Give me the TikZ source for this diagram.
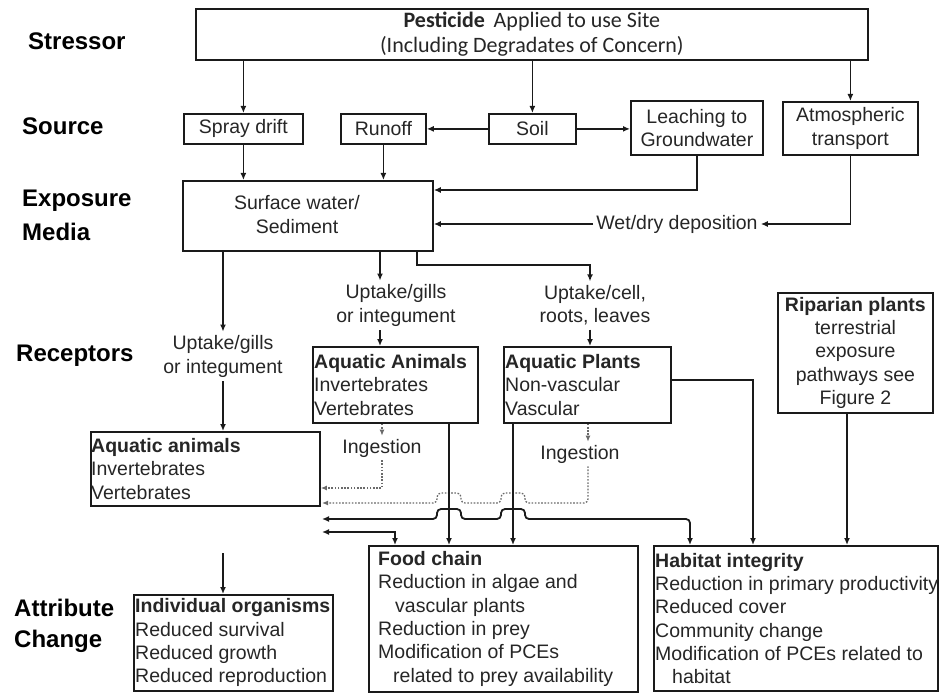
\documentclass[tikz,border=0pt]{standalone}
\usepackage{fontspec}
\setmainfont{Liberation Sans}
\newfontfamily\calib{Carlito}
\usetikzlibrary{arrows.meta}
\definecolor{lc}{HTML}{1A1A1A}
\definecolor{tc}{HTML}{262626}
\definecolor{dc}{HTML}{6A6A6A}
\begin{document}
\begin{tikzpicture}[x=1pt,y=-1pt,
  body/.style={text=tc, font=\fontsize{19.5}{23.3}\selectfont},
  box/.style={draw=lc, line width=1.8pt, inner sep=0pt, anchor=north west, body, align=center},
  txt/.style={body, inner sep=3pt, align=center},
  ltxt/.style={body, inner sep=0pt, align=left, anchor=west},
  lab/.style={font=\fontsize{24}{28}\selectfont\bfseries, text=black, anchor=base west, inner sep=0pt},
  arr/.style={draw=lc, line width=1.8pt, -{Latex[length=7pt,width=6pt]}},
  darr/.style={draw=lc, line width=1.8pt, {Latex[length=7pt,width=6pt]}-{Latex[length=7pt,width=6pt]}},
  dotarr/.style={draw=dc, line width=1.3pt, dash pattern=on 1.6pt off 1.6pt, -{Latex[length=6pt,width=5pt]}},
]
\useasboundingbox (0,0) rectangle (939,695);
\fill[white] (0,0) rectangle (939,695);

% row labels
\node[lab] (lstress) at (28,50) {Stressor};
\node[lab] (lsource) at (22,135) {Source};
\node[lab] (lexpo) at (22,207) {Exposure};
\node[lab] (lmedia) at (22,240) {Media};
\node[lab] (lrecep) at (16,361) {Receptors};
\node[lab] (lattr) at (14,616) {Attribute};
\node[lab] (lchange) at (14,647) {Change};

% boxes
\node[box, minimum width=672pt, minimum height=51pt, font=\calib\fontsize{22}{25}\selectfont] (top) at (195,8)
  {\textbf{Pesticide}\hspace{0.4em}Applied to use Site\\(Including Degradates of Concern)};
\node[box, minimum width=119pt, minimum height=30pt] (spray) at (183,113) {Spray drift};
\node[box, minimum width=85pt, minimum height=30pt] (runoff) at (340,113) {Runoff};
\node[box, minimum width=87pt, minimum height=30pt] (soil) at (488,113) {Soil};
\node[box, minimum width=132pt, minimum height=54pt] (leach) at (630,100) {Leaching to\\Groundwater};
\node[box, minimum width=135pt, minimum height=53pt] (atmos) at (782,101) {Atmospheric\\transport};
\node[box, minimum width=250pt, minimum height=70pt] (surf) at (182,180) {};
\node[txt] (surft) at (297,214.5) {Surface water/\\Sediment};

\node[box, minimum width=165pt, minimum height=76pt] (aqA) at (312,346) {};
\node[ltxt] (aqAt) at ([xshift=2pt]aqA.west) {\textbf{Aquatic Animals}\\Invertebrates\\Vertebrates};
\node[box, minimum width=167pt, minimum height=76pt] (aqP) at (503,346) {};
\node[ltxt] (aqPt) at ([xshift=2pt]aqP.west) {\textbf{Aquatic Plants}\\Non-vascular\\Vascular};
\node[box, minimum width=155pt, minimum height=120pt] (rip) at (777,292)
  {\textbf{Riparian plants}\\terrestrial\\exposure\\pathways see\\Figure 2};
\node[box, minimum width=229pt, minimum height=74pt] (aqa) at (90,431) {};
\node[ltxt] (aqat) at ([xshift=1pt]aqa.west) {\textbf{Aquatic animals}\\Invertebrates\\Vertebrates};

\node[box, minimum width=199pt, minimum height=96pt] (indiv) at (133,594) {};
\node[ltxt] (indivt) at ([xshift=2pt]indiv.west) {\textbf{Individual organisms}\\Reduced survival\\Reduced growth\\Reduced reproduction};
\node[box, minimum width=269pt, minimum height=146pt] (food) at (368,545) {};
\node[ltxt] (foodt) at ([xshift=10pt]food.west) {\textbf{Food chain}\\Reduction in algae and\\\hspace*{17pt}vascular plants\\Reduction in prey\\Modification of PCEs\\\hspace*{15pt}related to prey availability};
\node[box, minimum width=284pt, minimum height=145pt] (hab) at (653,545) {};
\node[ltxt] (habt) at ([xshift=2pt]hab.west) {\textbf{Habitat integrity}\\Reduction in primary productivity\\Reduced cover\\Community change\\Modification of PCEs related to\\\hspace*{17pt}habitat};

% free labels
\node[txt, inner sep=4pt] (upt1) at (223,356.5) {Uptake/gills\\or integument};
\node[txt, inner sep=4pt] (upt2) at (396,305.5) {Uptake/gills\\or integument};
\node[txt, inner sep=4pt] (upt3) at (595,305.5) {Uptake/cell,\\roots, leaves};
\node[txt, inner sep=3pt] (ing1) at (382,448) {Ingestion};
\node[txt, inner sep=3pt] (ing2) at (580,454) {Ingestion};
\node[txt, inner sep=3pt] (wet) at (677,224) {Wet/dry deposition};

% helper coordinates
\coordinate (x380) at (380,0);
\coordinate (x449) at (449,0);
\coordinate (x513) at (513,0);
\coordinate (x588) at (588,0);
\coordinate (x590) at (590,0);
\coordinate (k1) at (417,265);
\coordinate (y190) at (0,190);
\coordinate (p1) at (753,380);
\coordinate (r1) at (847,0);
\coordinate (d1) at (382,488);
\coordinate (d2) at (588,503);
\coordinate (h1) at (690,519);
\coordinate (g1) at (395,532);
\coordinate (e0) at (322,503);
\coordinate (e1) at (322,519);
\coordinate (e2) at (322,532);
\coordinate (i0) at (223,553);

% stressor -> sources
\draw[arr] (top.south -| spray) -- (spray.north);
\draw[arr] (top.south -| soil) -- (soil.north);
\draw[arr] (top.south -| atmos) -- (atmos.north);
\draw[arr] (soil.west) -- (runoff.east);
\draw[arr] (soil.east) -- (leach.west |- soil.east);

% sources -> surface water
\draw[arr] (spray.south) -- (surf.north -| spray);
\draw[arr] (runoff.south) -- (surf.north -| runoff);
\draw[arr] (leach.south) -- (leach.south |- y190) -- (surf.east |- y190);
\draw[arr] (atmos.south) |- (wet.east);
\draw[arr] (wet.west) -- (surf.east |- wet);

% surface water -> receptors
\draw[arr] (surf.south -| upt1) -- (upt1.north);
\draw[arr] (upt1.south) -- (aqa.north -| upt1);
\draw[arr] (surf.south -| x380) -- (upt2.north -| x380);
\draw[arr] (upt2.south -| x380) -- (aqA.north -| x380);
\draw[arr] (surf.south -| k1) -- (k1) -| (upt3.north -| x590);
\draw[arr] (upt3.south -| x590) -- (aqP.north -| x590);

% ingestion
\draw[dotarr] (aqA.south -| ing1) -- (ing1.north);
\draw[dotarr] (ing1.south) -- (d1) -- (d1 -| aqa.east);
\draw[dotarr] (aqP.south -| x588) -- (ing2.north -| x588);
\draw[dotarr, rounded corners=4pt] (ing2.south -| x588) -- (d2) -- (525,503) -- (525,493) -- (501,493) -- (501,503)
  -- (461,503) -- (461,493) -- (437,493) -- (437,503) -- (e0);

% to attribute change
\draw[arr] (aqA.south -| x449) -- (food.north -| x449);
\draw[arr] (aqP.south -| x513) -- (food.north -| x513);
\draw[arr] (aqP.east |- p1) -- (p1) -- (hab.north -| p1);
\draw[arr] (rip.south -| r1) -- (hab.north -| r1);
\draw[darr, rounded corners=4pt] (e1) -- (437,519) -- (437,509) -- (461,509) -- (461,519) -- (501,519) -- (501,509)
  -- (525,509) -- (525,519) -- (h1) -- (hab.north -| h1);
\draw[darr] (e2) -- (g1) -- (food.north -| g1);
\draw[arr] (i0) -- (indiv.north -| i0);
\end{tikzpicture}
\end{document}
